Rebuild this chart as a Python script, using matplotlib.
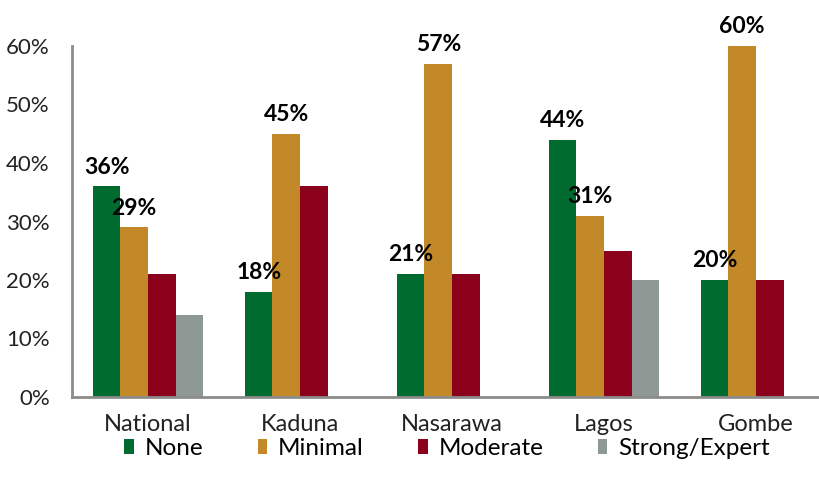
import matplotlib
matplotlib.use("Agg")
import matplotlib.pyplot as plt
import numpy as np

categories = ["National", "Kaduna", "Nasarawa", "Lagos", "Gombe"]
series_names = ["None", "Minimal", "Moderate", "Strong/Expert"]
none_vals = [36, 18, 21, 44, 20]
minimal_vals = [29, 45, 57, 31, 60]
moderate_vals = [21, 36, 21, 25, 20]
strong_vals = [14, 0, 0, 20, 0]
colors = ["#006B2F", "#C38828", "#8B001A", "#8E9895"]
yticks = [0, 10, 20, 30, 40, 50, 60]

plt.rcParams['font.family'] = ['Lato', 'DejaVu Sans']

fig = plt.figure(figsize=(8.19, 4.92), dpi=100)
ax = fig.add_axes([72/819, (492-397)/492, (832-72)/819, (397-46)/492])

x = np.arange(len(categories))
w = 0.181
all_vals = [none_vals, minimal_vals, moderate_vals, strong_vals]
bars = []
for i, (vals, c, name) in enumerate(zip(all_vals, colors, series_names)):
    b = ax.bar(x + (i - 1.5) * w, vals, width=w, color=c, label=name, zorder=2)
    bars.append(b)

for i in range(2):
    for xi, v in zip(x, all_vals[i]):
        ax.text(xi + (i - 1.5) * w, v + 1.5, f"{v}%", ha='center', va='bottom',
                fontsize=16.5, fontweight='bold', color='black', clip_on=False)

ax.set_xlim(-0.5, 4.5)
ax.set_ylim(0, 60)
ax.set_yticks(yticks)
ax.set_yticklabels([f"{t}%" for t in yticks], fontsize=16, color='#222222')
ax.set_xticks(x)
ax.set_xticklabels(categories, fontsize=17, color='#222222')
ax.tick_params(axis='both', length=0)
ax.tick_params(axis='y', pad=16)
ax.tick_params(axis='x', pad=12)
for s in ['top', 'right']:
    ax.spines[s].set_visible(False)
for s in ['left', 'bottom']:
    ax.spines[s].set_color('#8c8c8c')
    ax.spines[s].set_linewidth(2)

leg = fig.legend(handles=bars, labels=series_names, loc='center', bbox_to_anchor=(0.546, 0.088),
                 ncol=4, frameon=False, fontsize=17.5, handlelength=0.38, handleheight=0.55,
                 handletextpad=0.45, columnspacing=2.25)

fig.savefig("out.png", dpi=100)
